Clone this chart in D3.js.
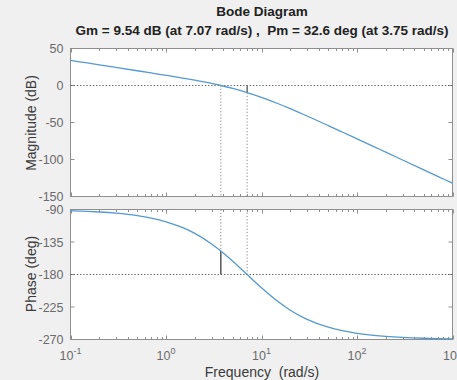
<!DOCTYPE html>
<html><head><meta charset="utf-8">
<script src="https://cdn.jsdelivr.net/npm/d3@7"></script>
<style>
body{margin:0;background:#f0f0f0;overflow:hidden;}
text{font-family:"Liberation Sans",Arial,sans-serif;white-space:pre;}
</style></head>
<body><svg id="c" width="457" height="380"></svg>
<script>
// Data (Bode of the loop)
const freq = [0.1,0.15,0.2,0.3,0.5,0.7,1,1.5,2,3,3.75,5,7.07,10,15,20,30,50,70,100,150,200,300,500,700,1000];
const magDb = [33.98,30.45,27.95,24.42,19.95,16.97,13.77,9.99,7.14,2.73,-0.01,-3.98,-9.54,-16.02,-24.66,-31.34,-41.24,-54.19,-62.86,-72.10,-82.63,-90.12,-100.67,-113.98,-122.75,-132.04];
const phaseDeg = [-91.72,-92.58,-93.44,-95.15,-98.57,-101.97,-107.02,-115.23,-123.11,-137.66,-147.43,-161.57,-180.0,-198.43,-217.87,-229.40,-242.10,-252.98,-257.78,-261.43,-264.28,-265.71,-267.14,-268.28,-268.77,-269.14];
const magTicks = [50,0,-50,-100,-150];
const phaseTicks = [-90,-135,-180,-225,-270];
const xTickExp = [-1,0,1,2,3];
const gm = {w:7.07, db:-9.54};
const pm = {w:3.75, deg:-147.43};
const titleText = "Bode Diagram";
const subText = "Gm = 9.54 dB (at 7.07 rad/s) ,  Pm = 32.6 deg (at 3.75 rad/s)";

const svg = d3.select("#c");
const L=70.5, R=452.5;
const x = d3.scaleLog().domain([0.1,1000]).range([L,R]);
const yM = d3.scaleLinear().domain([-150,50]).range([196.5,48.5]);
const yP = d3.scaleLinear().domain([-270,-90]).range([339.5,209.5]);
const lineCol="#5499d0", axCol="#8f8f8f", txtCol="#6a6a6a";

function panel(y, ticks){
  const [b,t]=y.range();
  svg.append("rect").attr("x",L).attr("y",t).attr("width",R-L).attr("height",b-t).attr("fill","#fff");
  const g=svg.append("g");
  const minors=[];
  for(let e=-1;e<3;e++) for(let k=1;k<10;k++) minors.push(k*Math.pow(10,e));
  minors.push(1000);
  minors.forEach(v=>{
    const major = Math.abs(Math.log10(v)-Math.round(Math.log10(v)))<1e-9;
    const len = major?4:2.5;
    const xx=Math.round(x(v))+0.5;
    g.append("line").attr("x1",xx).attr("x2",xx).attr("y1",b).attr("y2",b-len).attr("stroke",axCol);
    g.append("line").attr("x1",xx).attr("x2",xx).attr("y1",t).attr("y2",t+len).attr("stroke",axCol);
  });
  ticks.forEach(v=>{
    const yy=y(v);
    g.append("line").attr("x1",L).attr("x2",L+4).attr("y1",yy).attr("y2",yy).attr("stroke",axCol);
    g.append("line").attr("x1",R).attr("x2",R-4).attr("y1",yy).attr("y2",yy).attr("stroke",axCol);
    g.append("text").attr("x",L-7).attr("y",yy+4.5).attr("text-anchor","end").attr("font-size",12.5).attr("fill",txtCol).text(v);
  });
  g.append("rect").attr("x",L).attr("y",t).attr("width",R-L).attr("height",b-t).attr("fill","none").attr("stroke",axCol);
}
panel(yM, magTicks);
panel(yP, phaseTicks);

const dot = "1.2,2";
const refCol="#555";
// magnitude panel references
svg.append("line").attr("x1",L).attr("x2",R).attr("y1",yM(0)).attr("y2",yM(0)).attr("stroke",refCol).attr("stroke-dasharray",dot);
svg.append("line").attr("x1",x(pm.w)).attr("x2",x(pm.w)).attr("y1",yM(0)).attr("y2",yM(-150)).attr("stroke","#888").attr("stroke-dasharray",dot);
svg.append("line").attr("x1",x(gm.w)).attr("x2",x(gm.w)).attr("y1",yM(gm.db)).attr("y2",yM(-150)).attr("stroke","#888").attr("stroke-dasharray",dot);
svg.append("line").attr("x1",x(gm.w)).attr("x2",x(gm.w)).attr("y1",yM(0)).attr("y2",yM(gm.db)).attr("stroke","#444").attr("stroke-width",1.2);
// phase panel references
svg.append("line").attr("x1",L).attr("x2",R).attr("y1",yP(-180)).attr("y2",yP(-180)).attr("stroke",refCol).attr("stroke-dasharray",dot);
svg.append("line").attr("x1",x(pm.w)).attr("x2",x(pm.w)).attr("y1",yP(-90)).attr("y2",yP(pm.deg)).attr("stroke","#888").attr("stroke-dasharray",dot);
svg.append("line").attr("x1",x(gm.w)).attr("x2",x(gm.w)).attr("y1",yP(-90)).attr("y2",yP(-180)).attr("stroke","#888").attr("stroke-dasharray",dot);
svg.append("line").attr("x1",x(pm.w)).attr("x2",x(pm.w)).attr("y1",yP(pm.deg)).attr("y2",yP(-180)).attr("stroke","#555").attr("stroke-width",1.5);

// curves
const lm = d3.line().x((d,i)=>x(freq[i])).y(d=>yM(d)).curve(d3.curveMonotoneX);
const lp = d3.line().x((d,i)=>x(freq[i])).y(d=>yP(d)).curve(d3.curveMonotoneX);
svg.append("path").attr("d",lm(magDb)).attr("fill","none").attr("stroke",lineCol).attr("stroke-width",1.3);
svg.append("path").attr("d",lp(phaseDeg)).attr("fill","none").attr("stroke",lineCol).attr("stroke-width",1.3);

// x tick labels
xTickExp.forEach(e=>{
  const xx=x(Math.pow(10,e));
  const t=svg.append("text").attr("x",xx).attr("y",360).attr("text-anchor","middle").attr("font-size",12.5).attr("fill",txtCol);
  t.append("tspan").text("10");
  t.append("tspan").attr("dy",-6).attr("font-size",9).text(e);
});

// labels
svg.append("text").attr("x",262).attr("y",16).attr("text-anchor","middle").attr("font-size",13.5).attr("font-weight","bold").attr("fill","#222").text(titleText);
svg.append("text").attr("x",262).attr("y",35).attr("text-anchor","middle").attr("font-size",13.5).attr("font-weight","bold").attr("fill","#222").text(subText);
svg.append("text").attr("transform","translate(36,123) rotate(-90)").attr("text-anchor","middle").attr("font-size",14).attr("fill","#3a3a3a").text("Magnitude (dB)");
svg.append("text").attr("transform","translate(36,274) rotate(-90)").attr("text-anchor","middle").attr("font-size",14).attr("fill","#3a3a3a").text("Phase (deg)");
svg.append("text").attr("x",262).attr("y",377).attr("text-anchor","middle").attr("font-size",14).attr("fill","#3a3a3a").text("Frequency  (rad/s)");
</script></body></html>
